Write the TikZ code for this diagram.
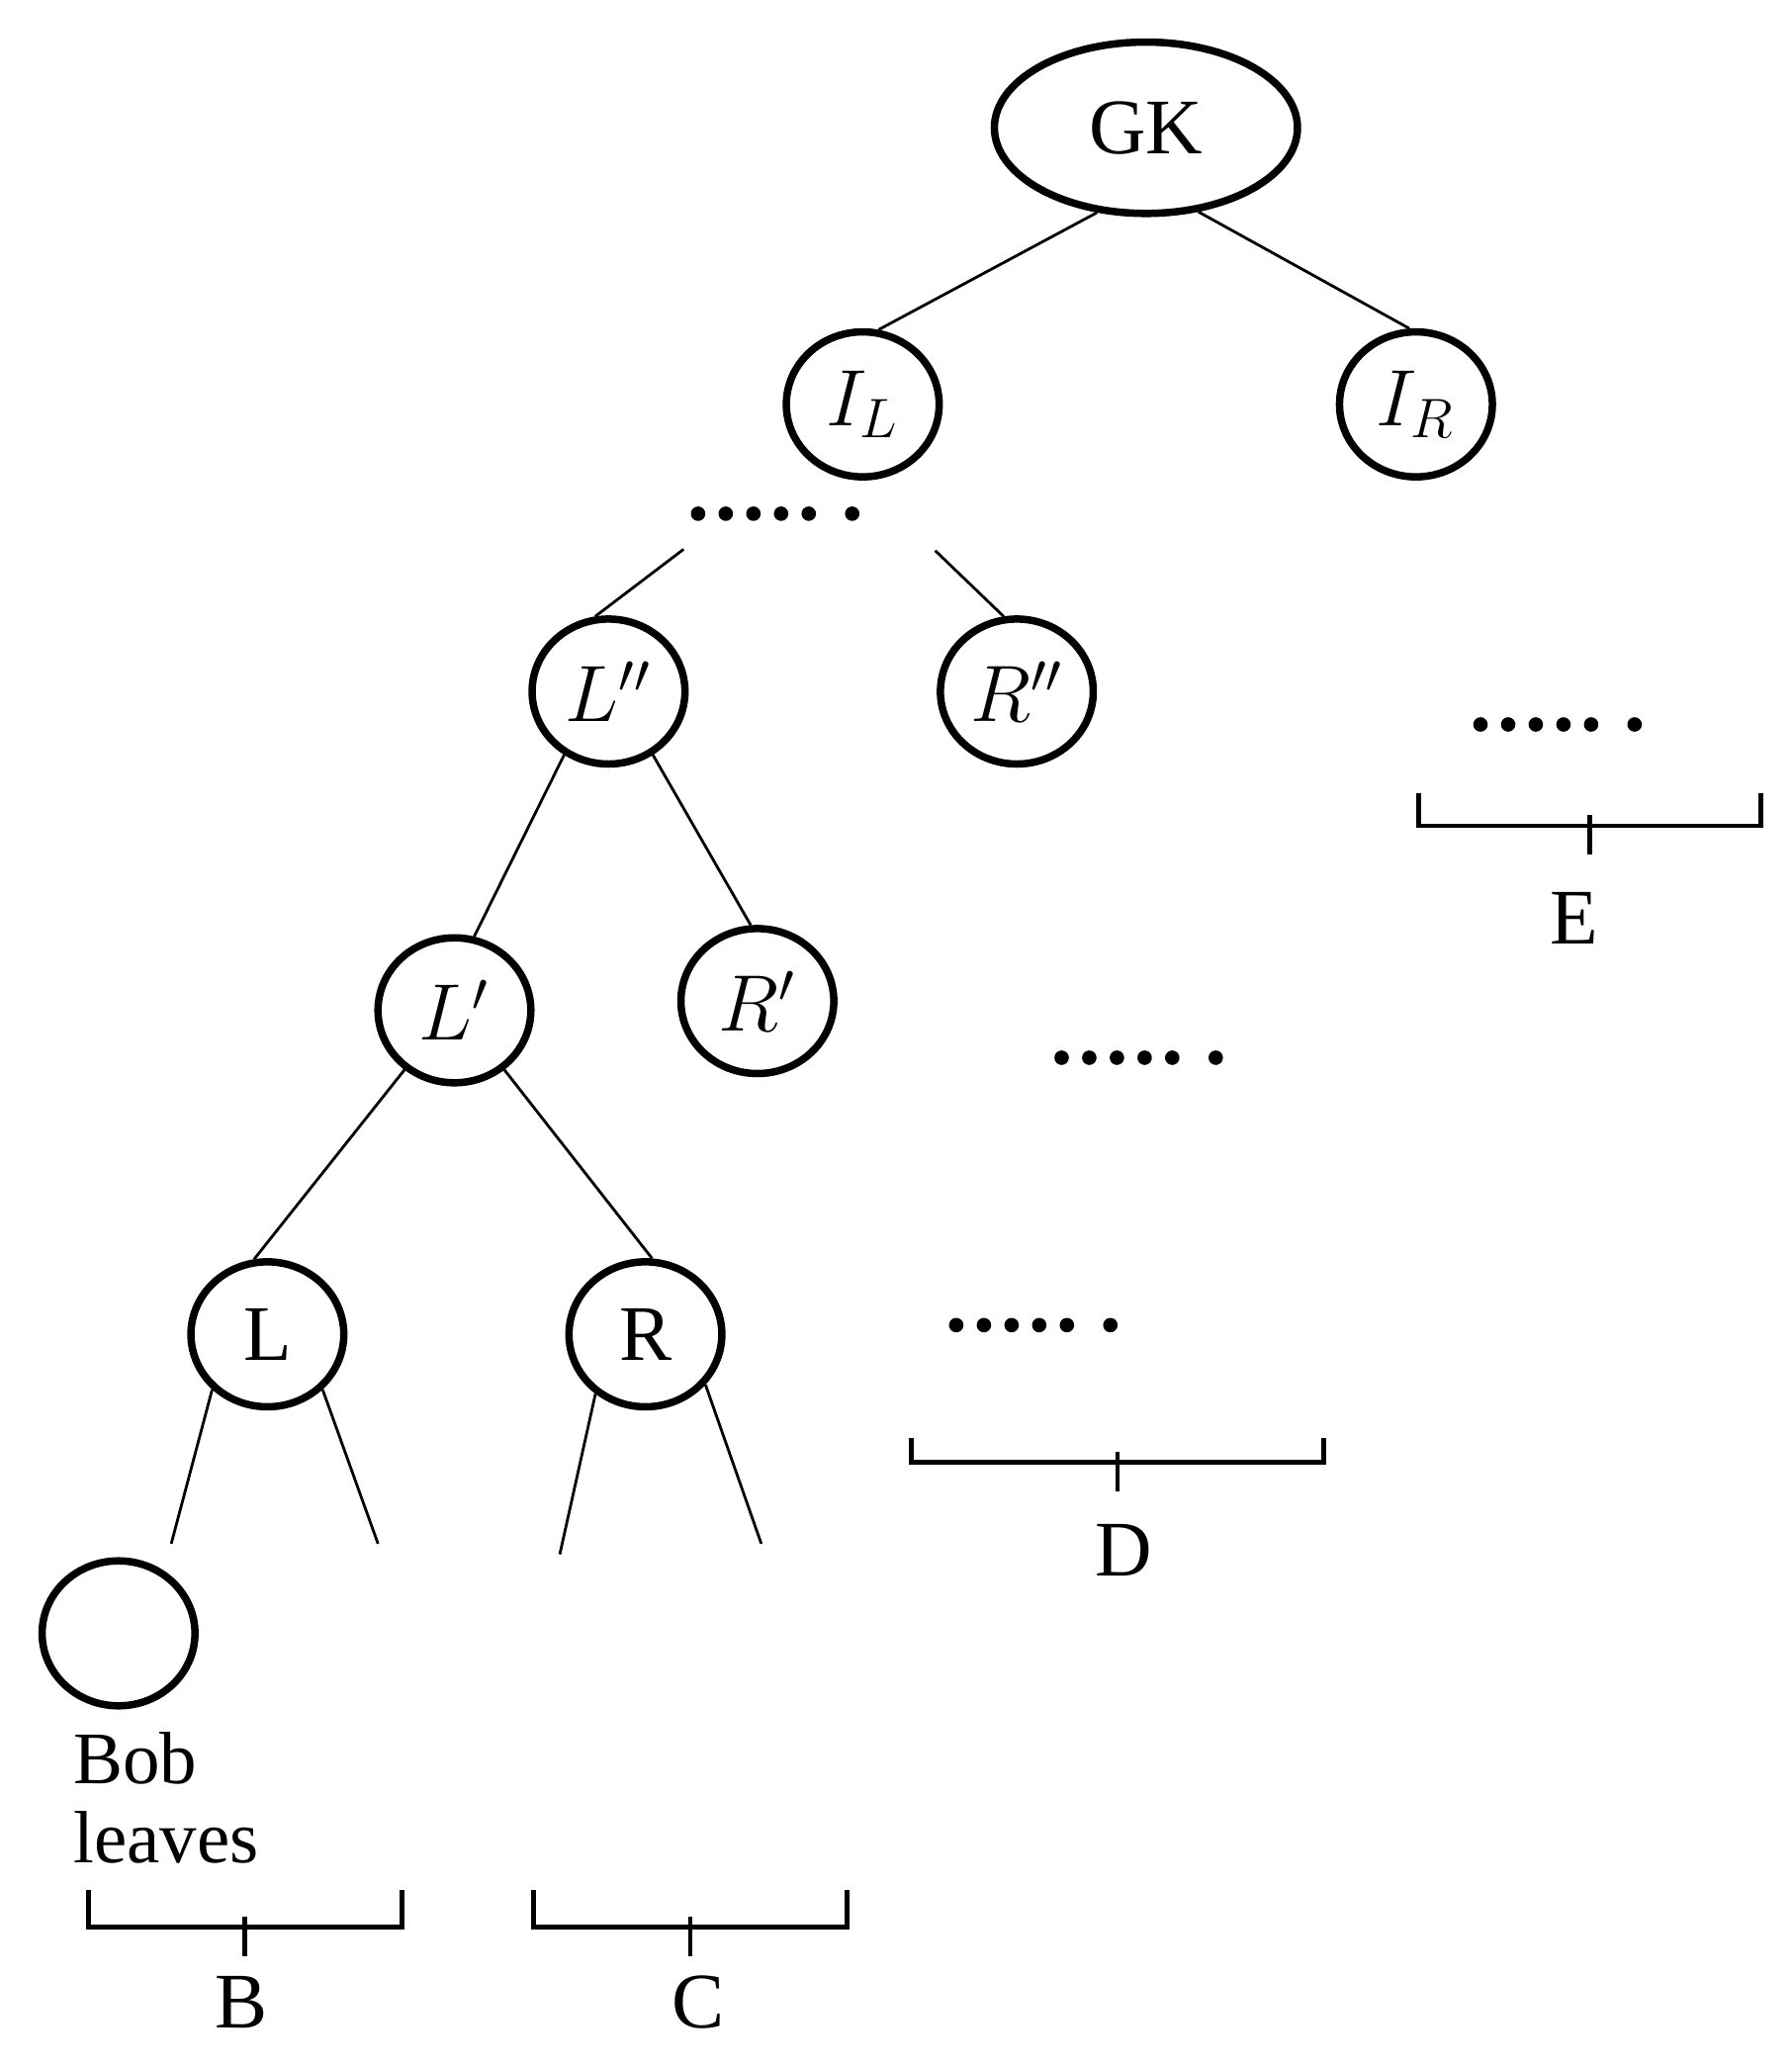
\documentclass[tikz,border=0pt]{standalone}
\usepackage{fontspec}
\setmainfont{Liberation Serif}
\usetikzlibrary{shapes.geometric}
\tikzset{
 nd/.style={draw,line width=1.6pt,ellipse,minimum width=1.16cm,minimum height=1.1cm,inner sep=0pt,font=\fontsize{17}{20}\selectfont},
 ln/.style={line width=0.6pt},
 br/.style={line width=1pt},
 lab/.style={font=\fontsize{17}{20}\selectfont,inner sep=0pt}
}
\newcommand{\dotrow}[2]{\foreach \k in {0,21,42,63,84,117}{\fill (#1+\k,#2) circle (5.5);}}
\newcommand{\brc}[4]{\draw[br] (#1,#3)--(#1,#4)--(#2,#4)--(#2,#3); \draw[br] ({(#1+#2)/2},#4-8)--({(#1+#2)/2},#4+22);}
\begin{document}
\begin{tikzpicture}[x=0.01cm,y=-0.01cm]
\useasboundingbox (0,0) rectangle (1360,1570);
\node[nd,minimum width=2.3cm,minimum height=1.3cm] (GK) at (870,97) {GK};
\node[nd] (IL) at (655,307) {$I_L$};
\node[nd] (IR) at (1075,307) {$I_R$};
\node[nd] (Lpp) at (462,525) {$L''$};
\node[nd] (Rpp) at (772,525) {$R''$};
\node[nd] (Lp) at (345,767) {$L'$};
\node[nd] (Rp) at (575,760) {$R'$};
\node[nd] (L) at (203,1013) {L};
\node[nd] (R) at (490,1013) {R};
\node[nd] (Bob) at (90,1240) {};
\draw[ln] (GK.240)--(IL.78); \draw[ln] (GK.302)--(IR.95);
\coordinate (d1) at (519,417); \coordinate (d2) at (710,418);
\draw[ln] (d1)--(Lpp.100); \draw[ln] (d2)--(Rpp.100);
\draw[ln] (Lpp.235)--(Lp.75); \draw[ln] (Lpp.305)--(Rp.95);
\draw[ln] (Lp.230)--(L.100); \draw[ln] (Lp.310)--(R.85);
\coordinate (a1) at (130,1172); \coordinate (a2) at (287,1172);
\coordinate (a3) at (425,1180); \coordinate (a4) at (578,1172);
\draw[ln] (L.225)--(a1); \draw[ln] (L.315)--(a2);
\draw[ln] (R.230)--(a3); \draw[ln] (R.320)--(a4);
\dotrow{530}{390}
\dotrow{1124}{550}
\dotrow{806}{803}
\dotrow{726}{1006}
\brc{1077}{1337}{602}{627}
\brc{692}{1005}{1092}{1110}
\brc{67}{305}{1435}{1463}
\brc{405}{643}{1435}{1463}
\node[lab] (E) at (1195,697) {E};
\node[lab] (D) at (853,1177) {D};
\node[lab] (B) at (183,1520) {B};
\node[lab] (C) at (530,1520) {C};
\node[lab,anchor=west,align=left,font=\fontsize{16}{17}\selectfont] (bl) at (55,1365) {Bob\\leaves};
\end{tikzpicture}
\end{document}
